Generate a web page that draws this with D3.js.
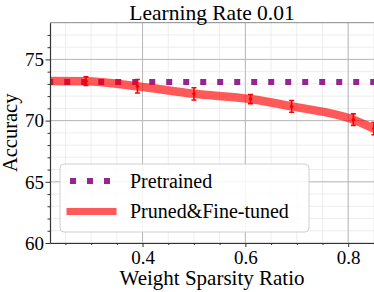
<!DOCTYPE html>
<html><head><meta charset="utf-8">
<script src="https://cdn.jsdelivr.net/npm/d3@7"></script>
<style>body{margin:0;background:#fff}svg{display:block}</style>
</head><body>
<script>
const title = "Learning Rate 0.01";
const xLabel = "Weight Sparsity Ratio";
const yLabel = "Accuracy";
const xTicks = [0.4, 0.6, 0.8];
const yTicks = [60, 65, 70, 75];
const pretrainedX = [0.2, 0.9];
const pretrainedY = [73.15, 73.15];
const prunedX = [0.2, 0.29, 0.39, 0.5, 0.61, 0.69, 0.81, 0.85, 0.9];
const prunedY = [73.25, 73.22, 72.81, 72.19, 71.76, 71.16, 70.08, 69.35, 68.5];
const prunedErr = [0.3, 0.35, 0.55, 0.5, 0.37, 0.48, 0.47, 0.5, 0.5];
const seriesNames = ["Pretrained", "Pruned&Fine-tuned"];

const W = 374, H = 292;
const m = {l: 50, t: 22.7, r: 378, b: 243};
const svg = d3.select("body").append("svg").attr("width", W).attr("height", H);
const x = d3.scaleLinear().domain([0.22, 0.858]).range([m.l, m.r]);
const y = d3.scaleLinear().domain([60, 78]).range([m.b, m.t]);
const font = "'Liberation Serif', 'Times New Roman', serif";

svg.append("defs").append("clipPath").attr("id", "clip")
  .append("rect").attr("x", m.l).attr("y", m.t).attr("width", m.r - m.l).attr("height", m.b - m.t);

const g = svg.append("g");
// minor grid
const xMinor = d3.range(0.25, 0.86, 0.05).map(v => +v.toFixed(2));
const yMinor = d3.range(61, 78, 1);
g.selectAll(".xmg").data(xMinor).join("line")
  .attr("x1", d => x(d)).attr("x2", d => x(d)).attr("y1", m.t).attr("y2", m.b)
  .attr("stroke", "#e8e8e8").attr("stroke-width", 0.8);
g.selectAll(".ymg").data(yMinor).join("line")
  .attr("y1", d => y(d)).attr("y2", d => y(d)).attr("x1", m.l).attr("x2", m.r)
  .attr("stroke", "#e8e8e8").attr("stroke-width", 0.8);
// major grid
g.selectAll(".xg").data(xTicks).join("line")
  .attr("x1", d => x(d)).attr("x2", d => x(d)).attr("y1", m.t).attr("y2", m.b)
  .attr("stroke", "#b8b8b8").attr("stroke-width", 1);
g.selectAll(".yg").data(yTicks).join("line")
  .attr("y1", d => y(d)).attr("y2", d => y(d)).attr("x1", m.l).attr("x2", m.r)
  .attr("stroke", "#b8b8b8").attr("stroke-width", 1);

// top spine
g.append("line").attr("x1", m.l).attr("x2", m.r).attr("y1", m.t).attr("y2", m.t)
  .attr("stroke", "#888").attr("stroke-width", 1);

const plot = svg.append("g").attr("clip-path", "url(#clip)");
const line = d3.line().x(d => x(d[0])).y(d => y(d[1]));
plot.append("path").datum(pretrainedX.map((v, i) => [v, pretrainedY[i]]))
  .attr("d", line).attr("fill", "none").attr("stroke", "#800080").attr("stroke-opacity", 0.85)
  .attr("stroke-width", 6).attr("stroke-dasharray", "6,11").attr("stroke-dashoffset", -7.5);

const curve = d3.line().curve(d3.curveMonotoneX).x(d => x(d[0])).y(d => y(d[1]));
plot.append("path").datum(prunedX.map((v, i) => [v, prunedY[i]]))
  .attr("d", curve).attr("fill", "none").attr("stroke", "#ff0000").attr("stroke-opacity", 0.65)
  .attr("stroke-width", 8.5);

const eb = plot.selectAll(".eb").data(prunedX.map((v, i) => [v, prunedY[i], prunedErr[i]])).join("g");
eb.append("line").attr("x1", d => x(d[0])).attr("x2", d => x(d[0]))
  .attr("y1", d => y(d[1] - d[2])).attr("y2", d => y(d[1] + d[2]))
  .attr("stroke", "#ff0000").attr("stroke-width", 1.6);
eb.append("line").attr("x1", d => x(d[0]) - 2.5).attr("x2", d => x(d[0]) + 2.5)
  .attr("y1", d => y(d[1] - d[2])).attr("y2", d => y(d[1] - d[2]))
  .attr("stroke", "#ff0000").attr("stroke-width", 1.6);
eb.append("line").attr("x1", d => x(d[0]) - 2.5).attr("x2", d => x(d[0]) + 2.5)
  .attr("y1", d => y(d[1] + d[2])).attr("y2", d => y(d[1] + d[2]))
  .attr("stroke", "#ff0000").attr("stroke-width", 1.6);
eb.append("circle").attr("cx", d => x(d[0])).attr("cy", d => y(d[1])).attr("r", 1.8).attr("fill", "#ff0000");

// axes
const xAxis = svg.append("g").attr("transform", `translate(0,${m.b})`)
  .call(d3.axisBottom(x).tickValues(xTicks).tickFormat(d3.format(".1f")).tickSize(4).tickSizeOuter(0));
const xMinorAxis = svg.append("g").attr("transform", `translate(0,${m.b})`)
  .call(d3.axisBottom(x).tickValues(xMinor.filter(v => !xTicks.includes(v))).tickFormat("").tickSize(2).tickSizeOuter(0));
xMinorAxis.select(".domain").remove();
const yAxis = svg.append("g").attr("transform", `translate(${m.l},0)`)
  .call(d3.axisLeft(y).tickValues(yTicks).tickSize(4.5).tickSizeOuter(0));
const yMinorAxis = svg.append("g").attr("transform", `translate(${m.l},0)`)
  .call(d3.axisLeft(y).tickValues(yMinor.filter(v => !yTicks.includes(v))).tickFormat("").tickSize(2.5).tickSizeOuter(0));
yMinorAxis.select(".domain").remove();
[xAxis, yAxis, xMinorAxis, yMinorAxis].forEach(a => {
  a.selectAll("line").attr("stroke", "#333");
  a.selectAll(".domain").attr("stroke", "#333").attr("stroke-width", 1.2);
  a.selectAll("text").attr("font-family", font).attr("font-size", 19).attr("fill", "#000");
});
xAxis.selectAll("text").attr("dy", null).attr("y", 21);
yAxis.selectAll("text").attr("x", -6).attr("dy", "0.33em");

svg.append("text").attr("x", (m.l + 374) / 2).attr("y", 19.5).attr("text-anchor", "middle")
  .attr("font-family", font).attr("font-size", 21.5).text(title);
svg.append("text").attr("x", (m.l + 374) / 2).attr("y", 285).attr("text-anchor", "middle")
  .attr("font-family", font).attr("font-size", 21).text(xLabel);
svg.append("text").attr("transform", `translate(16.5,${(m.t + m.b) / 2}) rotate(-90)`).attr("text-anchor", "middle")
  .attr("font-family", font).attr("font-size", 20.5).text(yLabel);

// legend
const lg = svg.append("g");
lg.append("rect").attr("x", 60).attr("y", 164).attr("width", 249).attr("height", 68).attr("rx", 4)
  .attr("fill", "#fff").attr("fill-opacity", 0.85).attr("stroke", "#d0d0d0").attr("stroke-width", 1);
lg.append("line").attr("x1", 70).attr("x2", 114).attr("y1", 181).attr("y2", 181)
  .attr("stroke", "#800080").attr("stroke-opacity", 0.85).attr("stroke-width", 6).attr("stroke-dasharray", "6,11");
lg.append("line").attr("x1", 66.5).attr("x2", 116.5).attr("y1", 211.5).attr("y2", 211.5)
  .attr("stroke", "#ff0000").attr("stroke-opacity", 0.65).attr("stroke-width", 7);
lg.selectAll(".lt").data(seriesNames).join("text")
  .attr("x", 130).attr("y", (d, i) => 187.5 + i * 30)
  .attr("font-family", font).attr("font-size", 20).text(d => d);
</script>
</body></html>
